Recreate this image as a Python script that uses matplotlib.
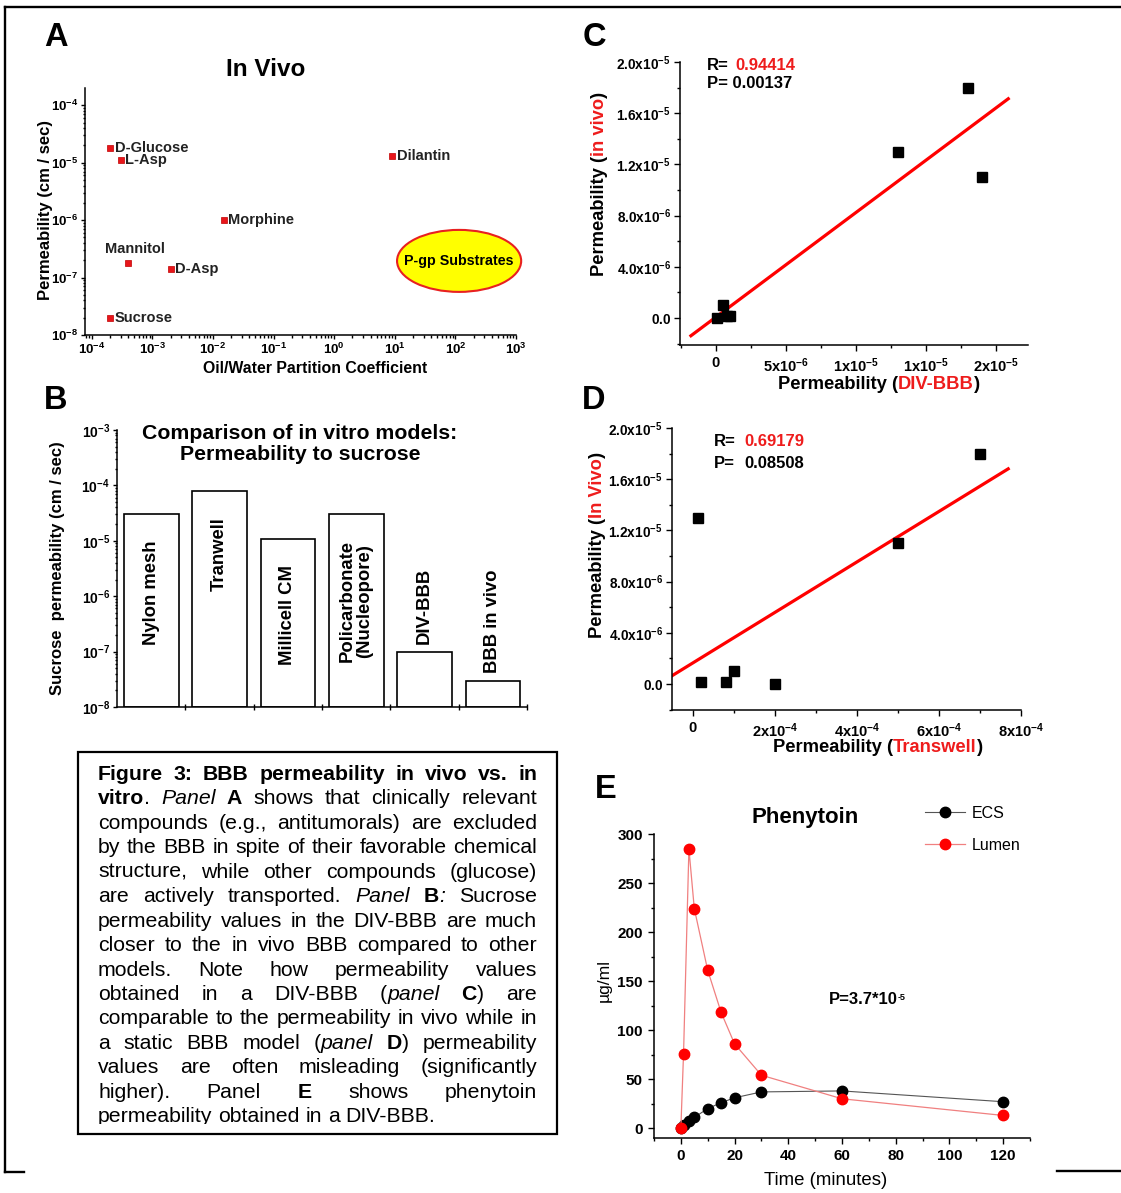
import re
import numpy as np
import matplotlib
matplotlib.use("Agg")
import matplotlib.pyplot as plt
from matplotlib.patches import Ellipse, Rectangle
from matplotlib.lines import Line2D
from matplotlib.ticker import NullFormatter, MultipleLocator, LogLocator
from matplotlib.transforms import Bbox, TransformedBbox

plt.rcParams["font.family"] = ["Liberation Sans", "DejaVu Sans"]
plt.rcParams["mathtext.fontset"] = "custom"
plt.rcParams["mathtext.rm"] = "Liberation Sans"
plt.rcParams["mathtext.bf"] = "Liberation Sans:bold"
plt.rcParams["mathtext.it"] = "Liberation Sans:italic"

# ---------------- data ----------------
# A: in vivo permeability vs oil/water partition coefficient
a_names = ["D-Glucose", "L-Asp", "Dilantin", "Morphine", "Mannitol", "D-Asp", "Sucrose"]
a_partition = [2.0e-4, 3.0e-4, 9.0, 1.5e-2, 4.0e-4, 2.0e-3, 2.0e-4]
a_perm = [1.8e-5, 1.1e-5, 1.3e-5, 1.0e-6, 1.8e-7, 1.4e-7, 2.0e-8]
a_xexp = [-4, -3, -2, -1, 0, 1, 2, 3]
a_yexp = [-8, -7, -6, -5, -4]

# B: sucrose permeability of in vitro models
b_models = ["Nylon mesh", "Tranwell", "Millicell CM", "Policarbonate\n(Nucleopore)",
            "DIV-BBB", "BBB in vivo"]
b_perm = [3.0e-5, 8.0e-5, 1.1e-5, 3.0e-5, 1.0e-7, 3.0e-8]
b_yexp = [-8, -7, -6, -5, -4, -3]

# C: in vivo vs DIV-BBB
c_divbbb = [1.8e-5, 1.3e-5, 1.9e-5, 5.0e-7, 1.0e-7, 8.0e-7, 1.0e-6]
c_invivo = [1.8e-5, 1.3e-5, 1.1e-5, 1.0e-6, 2.0e-8, 1.8e-7, 1.4e-7]
c_r, c_p = "0.94414", "0.00137"
c_xticks = [0, 5e-6, 1e-5, 1.5e-5, 2e-5]
c_xlabels = ["0", r"$\mathbf{5x10}^{\mathbf{-6}}$", r"$\mathbf{1x10}^{\mathbf{-5}}$",
             r"$\mathbf{1x10}^{\mathbf{-5}}$", r"$\mathbf{2x10}^{\mathbf{-5}}$"]

# D: in vivo vs Transwell
d_transwell = [7.0e-4, 5.0e-4, 1.2e-5, 1.0e-4, 2.0e-4, 2.0e-5, 8.0e-5]
d_invivo = [1.8e-5, 1.1e-5, 1.3e-5, 1.0e-6, 2.0e-8, 1.8e-7, 1.4e-7]
d_r, d_p = "0.69179", "0.08508"
d_xticks = [0, 2e-4, 4e-4, 6e-4, 8e-4]
d_xlabels = ["0", r"$\mathbf{2x10}^{\mathbf{-4}}$", r"$\mathbf{4x10}^{\mathbf{-4}}$",
             r"$\mathbf{6x10}^{\mathbf{-4}}$", r"$\mathbf{8x10}^{\mathbf{-4}}$"]

cd_yticks = [0, 4e-6, 8e-6, 1.2e-5, 1.6e-5, 2.0e-5]
cd_ylabels = [r"$\mathbf{0.0}$", r"$\mathbf{4.0x10}^{\mathbf{-6}}$", r"$\mathbf{8.0x10}^{\mathbf{-6}}$",
              r"$\mathbf{1.2x10}^{\mathbf{-5}}$", r"$\mathbf{1.6x10}^{\mathbf{-5}}$",
              r"$\mathbf{2.0x10}^{\mathbf{-5}}$"]

# E: phenytoin
e_time = [0, 1, 3, 5, 10, 15, 20, 30, 60, 120]
e_ecs = [0, 3, 7, 11, 20, 26, 31, 37, 38, 27]
e_lumen = [0, 76, 285, 224, 161, 118, 86, 54, 30, 13]

caption = [
    "*Figure 3: BBB permeability in vivo vs. in*",
    "*vitro*. _Panel_ *A* shows that clinically relevant",
    "compounds (e.g., antitumorals) are excluded",
    "by the BBB in spite of their favorable chemical",
    "structure, while other compounds (glucose)",
    "are actively transported. _Panel_ *B*_:_ Sucrose",
    "permeability values in the DIV-BBB are much",
    "closer to the in vivo BBB compared to other",
    "models. Note how permeability values",
    "obtained in a DIV-BBB (_panel_ *C*) are",
    "comparable to the permeability in vivo while in",
    "a static BBB model (_panel_ *D*) permeability",
    "values are often misleading (significantly",
    "higher). Panel *E* shows phenytoin",
    "permeability obtained in a DIV-BBB.",
]

RED = "#ee1c1c"

# ---------------- layout helpers ----------------
W, H = 1121, 1193
fig = plt.figure(figsize=(W / 100, H / 100), dpi=100)


def px_box(left, top, right, bottom):
    return [left / W, 1 - bottom / H, (right - left) / W, (bottom - top) / H]


def fx(x):
    return x / W


def fy(y):
    return 1 - y / H


def pow_label(e):
    return r"$\mathbf{10}^{\mathbf{%d}}$" % e


def style_axes(ax, size):
    for s in ("top", "right"):
        ax.spines[s].set_visible(False)
    for s in ("left", "bottom"):
        ax.spines[s].set_linewidth(1.1)
    ax.tick_params(which="both", direction="out", width=1.0, labelsize=size)
    ax.tick_params(which="major", length=4.5)
    ax.tick_params(which="minor", length=2.5)


def chain_text(ax, x, y, parts, rotation=0, **kw):
    # pieces drawn one after another, (x, y) = bottom-left in figure pixels
    t = fig.text(fx(x), fy(y), parts[0][0], color=parts[0][1], rotation=rotation,
                 ha="left", va="bottom", **kw)
    for s, c in parts[1:]:
        xy = (1, 0) if rotation == 0 else (0, 1)
        t = ax.annotate(s, xy=xy, xycoords=t, color=c, rotation=rotation,
                        ha="left", va="bottom", annotation_clip=False, **kw)
    return t


# ---------------- panel A ----------------
ax_a = fig.add_axes(px_box(85, 88, 516, 335))
ax_a.set_xscale("log")
ax_a.set_yscale("log")
ax_a.set_xlim(10 ** -4.11, 1e3)
ax_a.set_ylim(1e-8, 10 ** -3.7)
ax_a.plot(a_partition, a_perm, "s", color="#e8161b", ms=5, mec="#c00000", mew=0.5)
for name, xv, yv in zip(a_names, a_partition, a_perm):
    if name == "Mannitol":
        ax_a.annotate(name, (xv, yv), xytext=(5, 10), textcoords="offset points",
                      ha="center", va="center", fontsize=10.5, fontweight="bold", color="#222222")
    else:
        ax_a.annotate(name, (xv, yv), xytext=(3.5, 0), textcoords="offset points",
                      ha="left", va="center", fontsize=10.5, fontweight="bold", color="#222222")
ax_a.set_xticks([10.0 ** e for e in a_xexp], [pow_label(e) for e in a_xexp])
ax_a.set_yticks([10.0 ** e for e in a_yexp], [pow_label(e) for e in a_yexp])
ax_a.xaxis.set_minor_locator(LogLocator(base=10, subs=np.arange(2, 10), numticks=30))
ax_a.yaxis.set_minor_locator(LogLocator(base=10, subs=np.arange(2, 10), numticks=30))
ax_a.xaxis.set_minor_formatter(NullFormatter())
ax_a.yaxis.set_minor_formatter(NullFormatter())
style_axes(ax_a, 9.5)
ax_a.tick_params(which="major", length=3, pad=2)
ax_a.tick_params(which="minor", length=1.8)
ax_a.set_ylabel("Permeability (cm / sec)", fontsize=12, fontweight="bold")
ax_a.yaxis.set_label_coords(-0.074, 0.506)
ax_a.set_xlabel("Oil/Water Partition Coefficient", fontsize=11.4, fontweight="bold")
ax_a.xaxis.set_label_coords(0.534, -0.105)
ax_a.add_patch(Ellipse((0.868, 0.30), 0.288, 0.251, transform=ax_a.transAxes,
                       fc="#ffff00", ec="#e82020", lw=1.5, clip_on=False, zorder=3))
ax_a.text(0.868, 0.30, "P-gp Substrates", transform=ax_a.transAxes, ha="center",
          va="center", fontsize=10.3, fontweight="bold", zorder=4)
fig.text(fx(266), fy(70), "In Vivo", ha="center", va="center", fontsize=17.5,
         fontweight="bold")

# ---------------- panel B ----------------
ax_b = fig.add_axes(px_box(117, 430, 527, 707))
ax_b.set_yscale("log")
ax_b.set_ylim(1e-8, 1e-3)
ax_b.set_xlim(-0.5, len(b_models) - 0.5)
pos = np.arange(len(b_models))
base = 1e-8
ax_b.bar(pos, np.array(b_perm) - base, bottom=base, width=0.8, color="white",
         edgecolor="black", lw=1.2)
for p, name, v in zip(pos, b_models, b_perm):
    if v > 1e-6:
        ax_b.text(p, v * 10 ** (-26 / 55.4), name, rotation=90, ha="center", va="top",
                  fontsize=13.3, fontweight="bold", multialignment="center", linespacing=1.0)
    else:
        ax_b.text(p, v * 10 ** (8 / 55.4), name, rotation=90, ha="center", va="bottom",
                  fontsize=13.3, fontweight="bold")
ax_b.set_xticks(pos + 0.5, [])
ax_b.set_yticks([10.0 ** e for e in b_yexp], [pow_label(e) for e in b_yexp])
ax_b.yaxis.set_minor_locator(LogLocator(base=10, subs=np.arange(2, 10), numticks=30))
ax_b.yaxis.set_minor_formatter(NullFormatter())
style_axes(ax_b, 10)
ax_b.tick_params(axis="x", direction="inout", length=5)
ax_b.tick_params(axis="y", which="major", length=3, pad=2)
ax_b.tick_params(axis="y", which="minor", length=1.8)
ax_b.set_ylabel("Sucrose  permeability (cm / sec)", fontsize=12, fontweight="bold")
ax_b.yaxis.set_label_coords(-0.127, 0.50)
fig.text(fx(300), fy(444), "Comparison of in vitro models:\nPermeability to sucrose",
         ha="center", va="center", fontsize=15.3, fontweight="bold", linespacing=1.08)


# ---------------- panels C and D ----------------
def scatter_fit(ax, xs, ys):
    xs = np.array(xs)
    ys = np.array(ys)
    slope, icpt = np.polyfit(xs, ys, 1)
    ext = 0.1 * (xs.max() - xs.min())
    xl = np.array([xs.min() - ext, xs.max() + ext])
    ax.plot(xl, slope * xl + icpt, color="#ff0000", lw=2.3, zorder=2, clip_on=True)
    ax.plot(xs, ys, "s", color="black", ms=6.5, zorder=3)


ax_c = fig.add_axes(px_box(680, 62, 1028, 345))
ax_c.set_xlim(-2.57e-6, 2.23e-5)
ax_c.set_ylim(-2.1e-6, 2.0e-5)
scatter_fit(ax_c, c_divbbb, c_invivo)
ax_c.set_xticks(c_xticks, c_xlabels, fontweight="bold")
ax_c.set_yticks(cd_yticks, cd_ylabels)
ax_c.xaxis.set_minor_locator(MultipleLocator(2.5e-6))
ax_c.yaxis.set_minor_locator(MultipleLocator(2e-6))
style_axes(ax_c, 10.5)
ax_c.tick_params(axis="y", labelsize=9.8, pad=2)
fig.text(fx(707), fy(65), "R=", ha="left", va="center", fontsize=12, fontweight="bold")
fig.text(fx(735), fy(65), c_r, ha="left", va="center", fontsize=12, fontweight="bold",
         color=RED)
fig.text(fx(707), fy(84), "P= " + c_p, ha="left", va="center", fontsize=12,
         fontweight="bold")
chain_text(ax_c, 591, 276, [("Permeability (", "black"), ("in vivo", RED), (")", "black")],
           rotation=90, fontsize=13.2, fontweight="bold")
chain_text(ax_c, 778, 393, [("Permeability (", "black"), ("DIV-BBB", RED), (")", "black")],
           fontsize=13.2, fontweight="bold")

ax_d = fig.add_axes(px_box(672, 428, 1021, 710))
ax_d.set_xlim(-5.1e-5, 8.0e-4)
ax_d.set_ylim(-2.03e-6, 2.0e-5)
scatter_fit(ax_d, d_transwell, d_invivo)
ax_d.set_xticks(d_xticks, d_xlabels, fontweight="bold")
ax_d.set_yticks(cd_yticks, cd_ylabels)
ax_d.xaxis.set_minor_locator(MultipleLocator(1e-4))
ax_d.yaxis.set_minor_locator(MultipleLocator(2e-6))
style_axes(ax_d, 10.5)
ax_d.tick_params(axis="y", labelsize=9.8, pad=2)
fig.text(fx(714), fy(442), "R=", ha="left", va="center", fontsize=12, fontweight="bold")
fig.text(fx(744), fy(442), d_r, ha="left", va="center", fontsize=12, fontweight="bold",
         color=RED)
fig.text(fx(714), fy(463), "P=", ha="left", va="center", fontsize=12, fontweight="bold")
fig.text(fx(744), fy(463), d_p, ha="left", va="center", fontsize=12, fontweight="bold")
chain_text(ax_d, 589, 638, [("Permeability (", "black"), ("In Vivo", RED), (")", "black")],
           rotation=90, fontsize=13.2, fontweight="bold")
chain_text(ax_d, 773, 756, [("Permeability (", "black"), ("Transwell", RED), (")", "black")],
           fontsize=13.2, fontweight="bold")

# ---------------- panel E ----------------
ax_e = fig.add_axes(px_box(654, 834, 1030, 1138))
ax_e.set_xlim(-10, 130)
ax_e.set_ylim(-10, 300)
ax_e.plot(e_time, e_ecs, "-o", color="#555555", lw=0.8, ms=7.5, mfc="black", mec="black",
          label="ECS", zorder=3)
ax_e.plot(e_time, e_lumen, "-o", color="#f08080", lw=0.9, ms=7.5, mfc="#ff0000",
          mec="#ff0000", label="Lumen", zorder=4)
ax_e.xaxis.set_major_locator(MultipleLocator(20))
ax_e.xaxis.set_minor_locator(MultipleLocator(10))
ax_e.yaxis.set_major_locator(MultipleLocator(50))
ax_e.yaxis.set_minor_locator(MultipleLocator(25))
style_axes(ax_e, 11)
for lab in ax_e.get_xticklabels() + ax_e.get_yticklabels():
    lab.set_fontweight("bold")
ax_e.set_ylabel("µg/ml", fontsize=12.6)
ax_e.yaxis.set_label_coords(-0.112, 0.518)
ax_e.set_xlabel("Time (minutes)", fontsize=13.4)
ax_e.xaxis.set_label_coords(0.457, -0.112)
ax_e.legend(loc="upper left", bbox_to_anchor=(0.72, 1.092), frameon=False, fontsize=11.5,
            borderpad=0, borderaxespad=0, handlelength=2.5, handletextpad=0.45,
            labelspacing=1.04)
fig.text(fx(805), fy(817), "Phenytoin", ha="center", va="center", fontsize=16,
         fontweight="bold")
p_txt = fig.text(fx(829), fy(1000), "P=3.7*10", ha="left", va="center", fontsize=12,
                 fontweight="bold")
ax_e.annotate("-5", xy=(1, 0.95), xycoords=p_txt, ha="left", va="top", fontsize=6.5,
              fontweight="bold", annotation_clip=False)

# ---------------- panel letters ----------------
for letter, (lx, ly) in zip("ABCDE", [(56, 38), (56, 400), (594, 38), (594, 400), (606, 790)]):
    fig.text(fx(lx), fy(ly), letter, ha="center", va="center", fontsize=23.5, fontweight="bold")

# ---------------- caption box (justified) ----------------
fig.add_artist(Rectangle((fx(78), fy(1134)), fx(557) - fx(78), fy(752) - fy(1134),
                         transform=fig.transFigure, fill=False, lw=1.6, ec="black"))
cap_fs = 15.3
cap_left, cap_right = 98, 537
styles = {"n": {}, "b": {"fontweight": "bold"}, "i": {"fontstyle": "italic"}}
clip = TransformedBbox(Bbox.from_extents(fx(78), fy(1124), fx(557), fy(752)),
                       fig.transFigure)
renderer = fig.canvas.get_renderer()


def parse_line(line):
    words = [[]]
    for part in re.split(r"(\*[^*]*\*|_[^_]*_)", line):
        if not part:
            continue
        if part.startswith("*"):
            st, txt = "b", part[1:-1]
        elif part.startswith("_"):
            st, txt = "i", part[1:-1]
        else:
            st, txt = "n", part
        pieces = txt.split(" ")
        for k, pc in enumerate(pieces):
            if k > 0:
                words.append([])
            if pc:
                words[-1].append((pc, st))
    return [w for w in words if w]


def text_width(s, st):
    t = fig.text(0, 0, s, fontsize=cap_fs, **styles[st])
    w = t.get_window_extent(renderer).width
    t.remove()
    return w


space_w = text_width("a a", "n") - text_width("aa", "n")
for i, line in enumerate(caption):
    words = parse_line(line)
    widths = [[text_width(s, st) for s, st in w] for w in words]
    total = sum(sum(w) for w in widths)
    last = i == len(caption) - 1
    gap = space_w if last or len(words) < 2 else (cap_right - cap_left - total) / (len(words) - 1)
    x = cap_left
    base_y = 780 + 24.45 * i
    for w, ws in zip(words, widths):
        xx = x
        for (s, st), wd in zip(w, ws):
            t = fig.text(fx(xx), fy(base_y), s, fontsize=cap_fs, ha="left", va="baseline",
                         **styles[st])
            t.set_clip_box(clip)
            t.set_clip_on(True)
            xx += wd
        x = xx + gap

# ---------------- outer frame ----------------
frame_kw = dict(transform=fig.transFigure, color="black", lw=1.7)
fig.add_artist(Line2D([fx(5), fx(1121)], [fy(7), fy(7)], **frame_kw))
fig.add_artist(Line2D([fx(5), fx(5)], [fy(7), fy(1172)], **frame_kw))
fig.add_artist(Line2D([fx(5), fx(24)], [fy(1172), fy(1172)], **frame_kw))
fig.add_artist(Line2D([fx(1057), fx(1121)], [fy(1171), fy(1171)], **frame_kw))

fig.savefig("out.png", dpi=100)
